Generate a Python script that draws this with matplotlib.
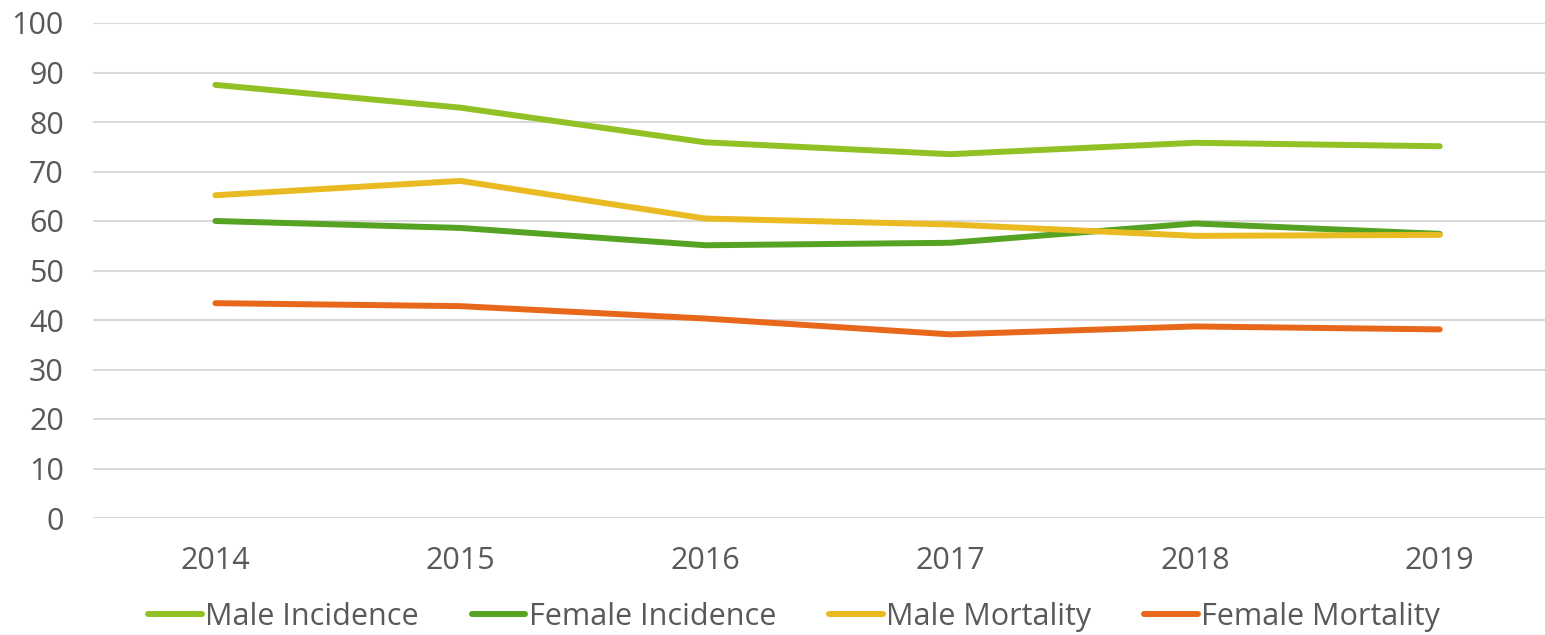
import matplotlib.pyplot as plt

years = ['2014', '2015', '2016', '2017', '2018', '2019']
male_incidence = [87.5, 82.9, 75.9, 73.5, 75.8, 75.1]
female_incidence = [60.0, 58.6, 55.1, 55.6, 59.5, 57.4]
male_mortality = [65.2, 68.1, 60.5, 59.3, 57.0, 57.2]
female_mortality = [43.4, 42.8, 40.3, 37.1, 38.7, 38.1]

series = [
  ('Male Incidence', male_incidence, '#92C125'),
  ('Female Incidence', female_incidence, '#56A324'),
  ('Male Mortality', male_mortality, '#E9BA22'),
  ('Female Mortality', female_mortality, '#E8681B'),
]

plt.rcParams['font.family'] = ['Open Sans', 'DejaVu Sans']
text_color = '#595959'

fig = plt.figure(figsize=(15.45, 6.35), dpi=100)
ax = fig.add_axes([93 / 1545, 1 - 518 / 635, 1 - 93 / 1545, (518 - 23) / 635])

x = range(len(years))
for name, values, color in series:
  ax.plot(x, values, color=color, lw=4.3, label=name, solid_capstyle='round')

ax.set_ylim(0, 100)
ax.set_xlim(-0.5, 5.43)
ax.set_yticks(range(0, 101, 10))
ax.set_xticks(list(x))
ax.set_xticklabels(years)
ax.grid(axis='y', color='#D9D9D9', lw=1.5)
ax.set_axisbelow(True)
for s in ax.spines.values():
  s.set_visible(False)
ax.tick_params(axis='both', length=0, labelsize=22, labelcolor=text_color)
ax.tick_params(axis='y', pad=21)
ax.tick_params(axis='x', pad=20)

fig.legend(loc='center', bbox_to_anchor=(0.514, 1 - 617 / 635), ncol=4, frameon=False,
           fontsize=22, labelcolor=text_color, handlelength=1.75, handletextpad=0.1,
           columnspacing=1.75, borderpad=0)

fig.savefig('out.png', dpi=100)
